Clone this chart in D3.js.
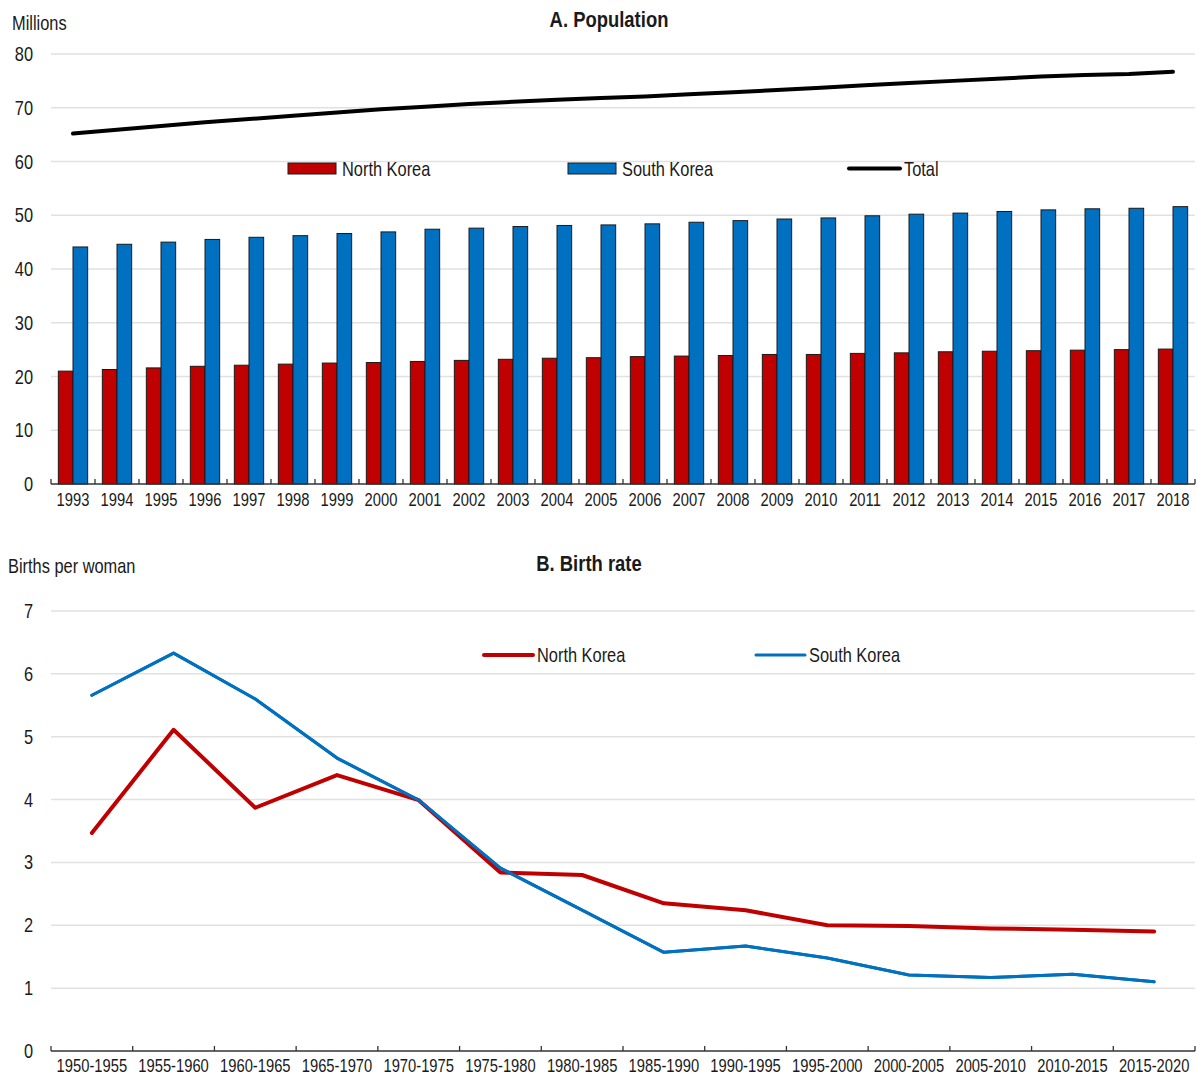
<!DOCTYPE html>
<html><head><meta charset="utf-8">
<script src="https://cdn.jsdelivr.net/npm/d3@7"></script>
<style>
body{margin:0;background:#fff;}
svg text{font-family:"Liberation Sans",Arial,sans-serif;fill:#1a1a1a;}
</style></head>
<body><svg id="c" width="1198" height="1075"></svg>
<script>
const years = ["1993","1994","1995","1996","1997","1998","1999","2000","2001","2002","2003","2004","2005","2006","2007","2008","2009","2010","2011","2012","2013","2014","2015","2016","2017","2018"];
const northPop = [21.0,21.3,21.6,21.9,22.1,22.3,22.5,22.6,22.8,23.0,23.2,23.4,23.5,23.7,23.8,23.9,24.1,24.1,24.3,24.4,24.6,24.7,24.8,24.9,25.0,25.1];
const southPop = [44.1,44.6,45.0,45.5,45.9,46.2,46.6,46.9,47.4,47.6,47.9,48.1,48.2,48.4,48.7,49.0,49.3,49.5,49.9,50.2,50.4,50.7,51.0,51.2,51.3,51.6];
const totalPop = [65.2,65.9,66.6,67.3,67.9,68.5,69.1,69.7,70.2,70.7,71.1,71.5,71.8,72.1,72.5,72.9,73.3,73.7,74.2,74.6,75.0,75.4,75.8,76.1,76.3,76.7];
const popTicks = [0,10,20,30,40,50,60,70,80];

const periods = ["1950-1955","1955-1960","1960-1965","1965-1970","1970-1975","1975-1980","1980-1985","1985-1990","1990-1995","1995-2000","2000-2005","2005-2010","2010-2015","2015-2020"];
const northBirth = [3.47,5.11,3.87,4.39,3.99,2.84,2.80,2.35,2.24,2.00,1.99,1.95,1.93,1.90];
const southBirth = [5.66,6.33,5.60,4.66,3.99,2.91,2.24,1.57,1.67,1.48,1.21,1.17,1.22,1.10];
const birthTicks = [0,1,2,3,4,5,6,7];

const RED = "#C00000", BLUE = "#0070C0";
const svg = d3.select("#c");
const L = 51, R = 1195;

// ---------- Panel A ----------
const gA = svg.append("g");
const xA = d3.scaleBand().domain(years).range([L, R]).padding(0);
const sub = d3.scaleBand().domain(["n","s"]).range([0, xA.bandwidth()]).paddingInner(0).paddingOuter(0.5);
const yA = d3.scaleLinear().domain([0,80]).range([484,54]);

gA.selectAll("line.grid").data(popTicks.filter(d=>d>0)).join("line")
  .attr("x1",L).attr("x2",R).attr("y1",d=>yA(d)).attr("y2",d=>yA(d))
  .attr("stroke","#e1e1e1").attr("stroke-width",1.5);

gA.selectAll("text.yt").data(popTicks).join("text")
  .attr("x",33).attr("y",d=>yA(d)).attr("dy","0.35em").attr("text-anchor","end")
  .attr("font-size",20).text(d=>d);

gA.selectAll("rect.n").data(years).join("rect")
  .attr("x",(d)=>xA(d)+sub("n")).attr("width",sub.bandwidth())
  .attr("y",(d,i)=>yA(northPop[i])).attr("height",(d,i)=>yA(0)-yA(northPop[i]))
  .attr("fill",RED).attr("stroke","#1a1a1a").attr("stroke-width",1);
gA.selectAll("rect.s").data(years).join("rect")
  .attr("x",(d)=>xA(d)+sub("s")).attr("width",sub.bandwidth())
  .attr("y",(d,i)=>yA(southPop[i])).attr("height",(d,i)=>yA(0)-yA(southPop[i]))
  .attr("fill",BLUE).attr("stroke","#1a1a1a").attr("stroke-width",1);

const lineA = d3.line().x((d,i)=>xA(years[i])+xA.bandwidth()/2).y(d=>yA(d));
gA.append("path").datum(totalPop).attr("d",lineA).attr("fill","none")
  .attr("stroke","#000").attr("stroke-width",4).attr("stroke-linecap","round").attr("stroke-linejoin","round");

gA.append("line").attr("x1",L).attr("x2",R).attr("y1",yA(0)).attr("y2",yA(0)).attr("stroke","#333").attr("stroke-width",1.3);
gA.selectAll("line.tk").data(d3.range(years.length+1)).join("line")
  .attr("x1",i=>L+i*xA.step()).attr("x2",i=>L+i*xA.step())
  .attr("y1",yA(0)).attr("y2",yA(0)-5).attr("stroke","#333").attr("stroke-width",1.3);
gA.selectAll("text.xt").data(years).join("text")
  .attr("x",d=>xA(d)+xA.bandwidth()/2).attr("y",506).attr("text-anchor","middle")
  .attr("font-size",18).text(d=>d);

gA.append("text").attr("x",12).attr("y",30).attr("font-size",20).text("Millions");
gA.append("text").attr("x",609).attr("y",27).attr("text-anchor","middle").attr("font-size",22.5).attr("font-weight","bold").text("A. Population");

const legA = [{t:"North Korea",c:RED,x:288,type:"rect"},{t:"South Korea",c:BLUE,x:568,type:"rect"},{t:"Total",c:"#000",x:849,type:"line"}];
legA.forEach(l=>{
  if(l.type==="rect"){
    gA.append("rect").attr("x",l.x).attr("y",163).attr("width",48).attr("height",11).attr("fill",l.c).attr("stroke","#1a1a1a").attr("stroke-width",1);
  } else {
    gA.append("line").attr("x1",l.x).attr("x2",l.x+51).attr("y1",168.5).attr("y2",168.5).attr("stroke",l.c).attr("stroke-width",4).attr("stroke-linecap","round");
  }
  gA.append("text").attr("x",l.x+(l.type==="rect"?54:55)).attr("y",168.5).attr("dy","0.35em").attr("font-size",20).text(l.t);
});

// ---------- Panel B ----------
const gB = svg.append("g");
const xB = d3.scaleBand().domain(periods).range([L, R]).padding(0);
const yB = d3.scaleLinear().domain([0,7]).range([1051,611]);

gB.selectAll("line.grid").data(birthTicks.filter(d=>d>0)).join("line")
  .attr("x1",L).attr("x2",R).attr("y1",d=>yB(d)).attr("y2",d=>yB(d))
  .attr("stroke","#e1e1e1").attr("stroke-width",1.5);
gB.selectAll("text.yt").data(birthTicks).join("text")
  .attr("x",33).attr("y",d=>yB(d)).attr("dy","0.35em").attr("text-anchor","end")
  .attr("font-size",20).text(d=>d);

const lineB = d3.line().x((d,i)=>xB(periods[i])+xB.bandwidth()/2).y(d=>yB(d));
gB.append("path").datum(southBirth).attr("d",lineB).attr("fill","none")
  .attr("stroke",BLUE).attr("stroke-width",3).attr("stroke-linecap","round").attr("stroke-linejoin","round");
gB.append("path").datum(northBirth).attr("d",lineB).attr("fill","none")
  .attr("stroke",RED).attr("stroke-width",4).attr("stroke-linecap","round").attr("stroke-linejoin","round");
gB.append("path").datum(southBirth).attr("d",lineB).attr("fill","none")
  .attr("stroke",BLUE).attr("stroke-width",3).attr("stroke-linecap","round").attr("stroke-linejoin","round");

gB.append("line").attr("x1",L).attr("x2",R).attr("y1",yB(0)).attr("y2",yB(0)).attr("stroke","#333").attr("stroke-width",1.3);
gB.selectAll("line.tk").data(d3.range(periods.length+1)).join("line")
  .attr("x1",i=>L+i*xB.step()).attr("x2",i=>L+i*xB.step())
  .attr("y1",yB(0)).attr("y2",yB(0)-5).attr("stroke","#333").attr("stroke-width",1.3);
gB.selectAll("text.xt").data(periods).join("text")
  .attr("x",d=>xB(d)+xB.bandwidth()/2).attr("y",1072).attr("text-anchor","middle")
  .attr("font-size",18).text(d=>d);

gB.append("text").attr("x",8).attr("y",573).attr("font-size",20).text("Births per woman");
gB.append("text").attr("x",589).attr("y",571).attr("text-anchor","middle").attr("font-size",22.5).attr("font-weight","bold").text("B. Birth rate");

const legB = [{t:"North Korea",c:RED,x:484,w:4},{t:"South Korea",c:BLUE,x:756,w:3}];
legB.forEach(l=>{
  gB.append("line").attr("x1",l.x).attr("x2",l.x+49).attr("y1",655).attr("y2",655).attr("stroke",l.c).attr("stroke-width",l.w).attr("stroke-linecap","round");
  gB.append("text").attr("x",l.x+53).attr("y",655).attr("dy","0.35em").attr("font-size",20).text(l.t);
});

// condense all text horizontally (narrow typeface look)
svg.selectAll("text").each(function(){
  const t = d3.select(this);
  const x = +t.attr("x"), y = +t.attr("y");
  t.attr("x",0).attr("y",0).attr("transform",`translate(${x},${y}) scale(0.82,1)`);
});
</script></body></html>
